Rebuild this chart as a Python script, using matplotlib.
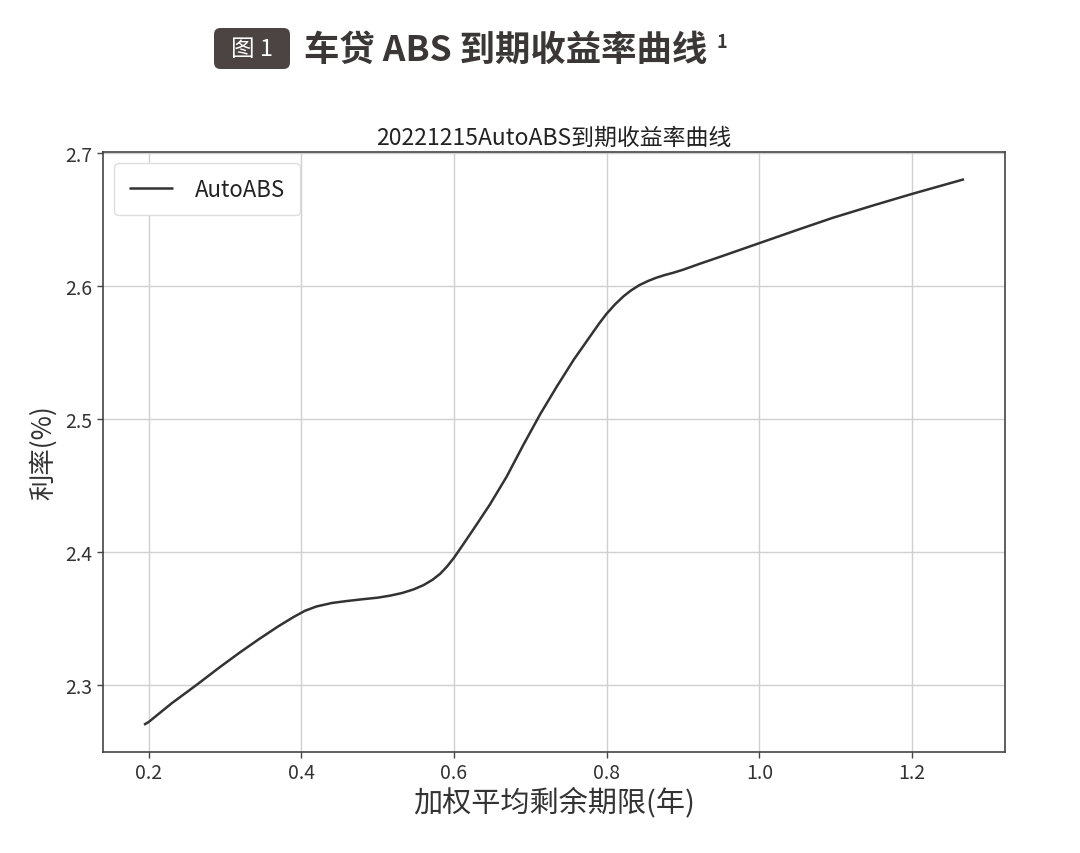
import matplotlib
matplotlib.use("Agg")
import matplotlib.pyplot as plt
from matplotlib.patches import FancyBboxPatch

plt.rcParams['font.family'] = ['Noto Sans CJK SC', 'DejaVu Sans']
plt.rcParams['axes.unicode_minus'] = False

# ---- data ----
term_years = [0.194, 0.200, 0.230, 0.263, 0.295, 0.320, 0.345, 0.370, 0.390,
              0.405, 0.420, 0.440, 0.460, 0.480, 0.500, 0.516, 0.532, 0.547,
              0.560, 0.572, 0.582, 0.591, 0.600, 0.612, 0.625, 0.647, 0.669,
              0.691, 0.713, 0.735, 0.757, 0.779, 0.790, 0.800, 0.811, 0.822,
              0.832, 0.843, 0.854, 0.865, 0.876, 0.887, 0.900, 0.922, 0.950,
              1.000, 1.050, 1.096, 1.150, 1.200, 1.268]
yield_pct = [2.2705, 2.2725, 2.2865, 2.3005, 2.3145, 2.3250, 2.3350, 2.3445,
             2.3515, 2.3562, 2.3594, 2.3620, 2.3635, 2.3648, 2.3660, 2.3675,
             2.3695, 2.3722, 2.3754, 2.3795, 2.3840, 2.3895, 2.3960, 2.4060,
             2.4170, 2.4360, 2.4570, 2.4810, 2.5040, 2.5250, 2.5450, 2.5630,
             2.5720, 2.5795, 2.5865, 2.5925, 2.5970, 2.6010, 2.6040, 2.6065,
             2.6085, 2.6102, 2.6125, 2.6170, 2.6225, 2.6325, 2.6425, 2.6515,
             2.6610, 2.6695, 2.6805]
series_name = "AutoABS"
chart_title = "20221215AutoABS到期收益率曲线"
x_label = "加权平均剩余期限(年)"
y_label = "利率(%)"
header_tag = "图 1"
header_text = "车贷 ABS 到期收益率曲线"

W, H = 1080, 854
fig = plt.figure(figsize=(W / 100, H / 100), dpi=100)
fig.patch.set_facecolor('white')

# ---- header ----
box_x0, box_y0, box_w, box_h = 214, 29, 76, 41
patch = FancyBboxPatch((box_x0 / W, 1 - (box_y0 + box_h) / H), box_w / W, box_h / H,
                       boxstyle="round,pad=0,rounding_size=0.006",
                       transform=fig.transFigure, fc='#4b4442', ec='none',
                       mutation_aspect=W / H)
fig.patches.append(patch)
fig.text((box_x0 + box_w / 2) / W, 1 - (box_y0 + box_h / 2) / H, header_tag,
         color='white', fontsize=17, ha='center', va='center')
fig.text(304 / W, 1 - 50 / H, header_text, color='#3b3737', fontsize=25.5,
         fontweight='bold', ha='left', va='center')
fig.text(716 / W, 1 - 43 / H, "1", color='#3b3737', fontsize=13,
         fontweight='bold', ha='left', va='center')

# ---- axes ----
ax = fig.add_axes([103 / W, 1 - 753 / H, (1005 - 103) / W, (753 - 153) / H])
ax.plot(term_years, yield_pct, color='#333333', lw=1.8, label=series_name,
        solid_capstyle='butt', solid_joinstyle='round')
ax.set_yticks([2.3, 2.4, 2.5, 2.6, 2.7])
ax.set_xticks([0.2, 0.4, 0.6, 0.8, 1.0, 1.2])
ax.set_xticklabels(['0.2', '0.4', '0.6', '0.8', '1.0', '1.2'])
ax.set_yticklabels(['2.3', '2.4', '2.5', '2.6', '2.7'])
ax.grid(True, color='#d0d0d0', lw=1.0)
ax.set_axisbelow(True)
for s in ax.spines.values():
    s.set_color('#444444')
    s.set_linewidth(1.2)
ax.tick_params(axis='both', labelsize=14, colors='#444444', length=4,
               width=1.0, labelcolor='#333333')
ax.set_title(chart_title, fontsize=16.5, color='#222222', pad=6)
ax.set_xlabel(x_label, fontsize=21, color='#333333', labelpad=2)
ax.set_ylabel(y_label, fontsize=19, color='#333333', labelpad=6)
leg = ax.legend(loc='upper left', fontsize=16, handlelength=2.0,
                borderpad=0.65, handletextpad=1.0, framealpha=1.0,
                edgecolor='#dddddd')
for t in leg.get_texts():
    t.set_color('#222222')

fig.savefig('out.png', dpi=100, facecolor='white')
